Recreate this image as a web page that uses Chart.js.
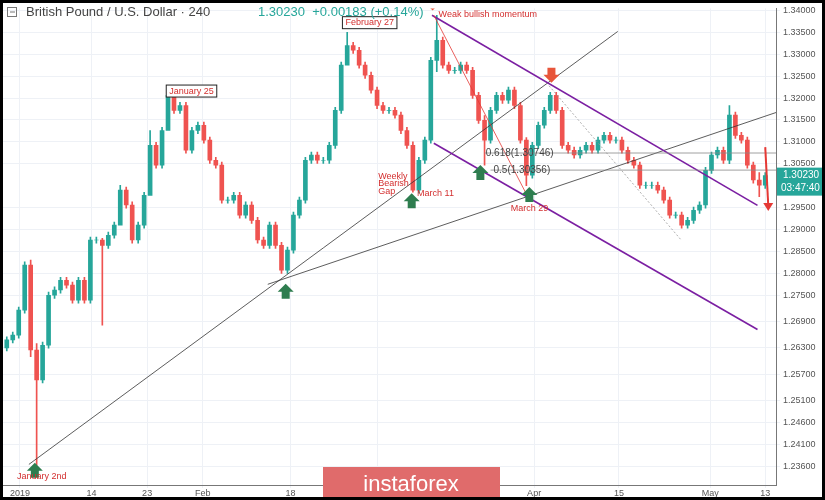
<!DOCTYPE html>
<html>
<head>
<meta charset="utf-8">
<script src="https://cdn.jsdelivr.net/npm/chart.js@4.4.1/dist/chart.umd.min.js"></script>
<style>
  html, body { margin: 0; padding: 0; background: #fff; }
  #wrap { position: relative; width: 825px; height: 500px; }
  canvas { display: block; }
</style>
</head>
<body>
<div id="wrap"><canvas id="chart" width="825" height="500"></canvas></div>
<script>
// GBP/USD 4H closes, one per candle slot
const closes = [
  1.2648, 1.2659, 1.2716, 1.2819, 1.2625, 1.2557, 1.2636, 1.2750, 1.2762, 1.2784,
  1.2773, 1.2739, 1.2784, 1.2739, 1.2876, 1.2876, 1.2864, 1.2887, 1.2910, 1.2990,
  1.2956, 1.2876, 1.2910, 1.2978, 1.3092, 1.3047, 1.3126, 1.3206, 1.3172, 1.3183,
  1.3081, 1.3126, 1.3138, 1.3104, 1.3058, 1.3047, 1.2967, 1.2967, 1.2978, 1.2933,
  1.2956, 1.2921, 1.2876, 1.2864, 1.2910, 1.2864, 1.2807, 1.2853, 1.2933, 1.2967,
  1.3058, 1.3070, 1.3058, 1.3058, 1.3092, 1.3172, 1.3275, 1.3320, 1.3309, 1.3275,
  1.3252, 1.3218, 1.3183, 1.3172, 1.3172, 1.3161, 1.3126, 1.3092, 1.2990, 1.3058,
  1.3104, 1.3286, 1.3332, 1.3275, 1.3263, 1.3263, 1.3275, 1.3263, 1.3206, 1.3149,
  1.3104, 1.3172, 1.3206, 1.3195, 1.3218, 1.3183, 1.3104, 1.3024, 1.3092, 1.3138,
  1.3172, 1.3206, 1.3172, 1.3092, 1.3081, 1.3070, 1.3081, 1.3092, 1.3081, 1.3104,
  1.3115, 1.3104, 1.3104, 1.3081, 1.3058, 1.3047, 1.3001, 1.3001, 1.3001, 1.2990,
  1.2967, 1.2933, 1.2933, 1.2910, 1.2921, 1.2944, 1.2956, 1.3035, 1.3070, 1.3081,
  1.3058, 1.3161, 1.3115, 1.3104, 1.3047, 1.3013, 1.3001, 1.3023
];
const firstOpen = 1.2630;
// notable wicks: candle index -> [low, high]
const bigWicks = {
  4: [1.2610, 1.2830], 5: [1.2362, 1.2640], 16: [1.2682, 1.2880], 19: [1.2960, 1.3001],
  24: [1.3040, 1.3126], 27: [1.3160, 1.3222], 57: [1.3280, 1.3350], 68: [1.2985, 1.3100],
  72: [1.3260, 1.3389], 80: [1.3047, 1.3160], 87: [1.3000, 1.3110], 121: [1.3050, 1.3183],
  126: [1.2975, 1.3030]
};
const wickPad = 0.0007;

const yTicks = [1.34, 1.335, 1.33, 1.325, 1.32, 1.315, 1.31, 1.305, 1.295, 1.29, 1.285,
  1.28, 1.275, 1.269, 1.263, 1.257, 1.251, 1.246, 1.241, 1.236];
const xTickPos = [2.2, 14.2, 23.5, 32.8, 47.5, 62, 88.3, 102.5, 117.8, 127];
const xTickLabels = ["2019", "14", "23", "Feb", "18", "Mar", "Apr", "15", "May", "13"];
const lastPrice = 1.3023;

const bodies = [];
const wicks = [];
const colors = [];
closes.forEach(function (c, i) {
  const o = i === 0 ? firstOpen : closes[i - 1];
  const w = bigWicks[i] || [Math.min(o, c) - wickPad, Math.max(o, c) + wickPad];
  bodies.push({ x: i, y: [o, c] });
  wicks.push({ x: i, y: w });
  colors.push(c >= o ? "#26a69a" : "#ef5350");
});

// drawings in (candle index, price)
const lines = [
  { a: [3.7, 1.2364], b: [102.3, 1.3352], color: "#333", w: 0.8 },
  { a: [43.7, 1.2775], b: [128.8, 1.3167], color: "#333", w: 0.8 },
  { a: [71.2, 1.3389], b: [125.7, 1.2955], color: "#7b1fa2", w: 1.6 },
  { a: [71.5, 1.3097], b: [125.7, 1.2672], color: "#7b1fa2", w: 1.6 },
  { a: [71.5, 1.3389], b: [87, 1.2981], color: "#e53935", w: 0.8 },
  { a: [90.8, 1.3228], b: [112.8, 1.2878], color: "#999", w: 0.8, dash: [2, 2] },
  { a: [80, 1.30746], b: [128.8, 1.30746], color: "#888", w: 0.8 },
  { a: [81, 1.30356], b: [128.8, 1.30356], color: "#888", w: 0.8 }
];
const upArrows = [[4.7, 1.2368], [46.7, 1.2776], [67.8, 1.2983], [79.3, 1.3047], [87.5, 1.2997]];
const downArrows = [[71.3, 1.3400], [91.2, 1.3235]];
const labels = [
  { p: [72.3, 1.3390], t: "Weak bullish momentum" },
  { p: [68.7, 1.2982], t: "March 11" },
  { p: [84.4, 1.2948], t: "March 29" },
  { p: [1.7, 1.2336], t: "January 2nd" },
  { p: [62.2, 1.3022], t: "Weekly" },
  { p: [62.2, 1.3004], t: "Bearish" },
  { p: [62.2, 1.2986], t: "Gap" }
];
const boxes = [
  { p: [26.7, 1.3216], t: "January 25" },
  { p: [56.2, 1.3372], t: "February 27" }
];
const fibLabels = [
  { p: [80.2, 1.30746], t: "0.618(1.30746)" },
  { p: [81.5, 1.30356], t: "0.5(1.30356)" }
];

const drawings = {
  id: "drawings",
  afterDatasetsDraw: function (chart) {
    const ctx = chart.ctx;
    const xs = chart.scales.x;
    const ys = chart.scales.y;
    const area = chart.chartArea;
    function P(p) { return [xs.getPixelForValue(p[0]), ys.getPixelForValue(p[1])]; }
    ctx.save();
    ctx.beginPath();
    ctx.rect(area.left, area.top, area.right - area.left, area.bottom - area.top);
    ctx.clip();
    lines.forEach(function (l) {
      const s = P(l.a);
      const e = P(l.b);
      ctx.strokeStyle = l.color; ctx.lineWidth = l.w;
      ctx.setLineDash(l.dash || []);
      ctx.beginPath(); ctx.moveTo(s[0], s[1]); ctx.lineTo(e[0], e[1]); ctx.stroke();
    });
    ctx.setLineDash([]);
    // red arrow on the right
    const r1 = P([127, 1.3088]);
    const r2 = P([127.5, 1.2942]);
    ctx.strokeStyle = "#e53935"; ctx.lineWidth = 2;
    ctx.beginPath(); ctx.moveTo(r1[0], r1[1]); ctx.lineTo(r2[0], r2[1] - 6); ctx.stroke();
    ctx.fillStyle = "#e53935";
    ctx.beginPath(); ctx.moveTo(r2[0] - 5, r2[1] - 8); ctx.lineTo(r2[0] + 5, r2[1] - 8); ctx.lineTo(r2[0], r2[1]); ctx.fill();
    // big arrows
    function arrow(p, up, col) {
      const c = P(p);
      const cx = c[0], cy = c[1];
      const s = up ? 1 : -1;
      ctx.fillStyle = col;
      ctx.beginPath();
      ctx.moveTo(cx, cy);
      ctx.lineTo(cx + 8, cy + 8 * s); ctx.lineTo(cx + 4, cy + 8 * s);
      ctx.lineTo(cx + 4, cy + 15 * s); ctx.lineTo(cx - 4, cy + 15 * s);
      ctx.lineTo(cx - 4, cy + 8 * s); ctx.lineTo(cx - 8, cy + 8 * s);
      ctx.closePath(); ctx.fill();
    }
    upArrows.forEach(function (p) { arrow(p, true, "#2e7d4f"); });
    downArrows.forEach(function (p) { arrow(p, false, "#e8553a"); });
    ctx.font = "9px 'Liberation Sans', sans-serif";
    ctx.textBaseline = "middle";
    labels.forEach(function (l) {
      const q = P(l.p);
      ctx.fillStyle = "#d32f2f"; ctx.fillText(l.t, q[0], q[1]);
    });
    boxes.forEach(function (b) {
      const q = P(b.p);
      const w = ctx.measureText(b.t).width + 6;
      ctx.fillStyle = "#fff"; ctx.fillRect(q[0], q[1] - 6, w, 12);
      ctx.strokeStyle = "#222"; ctx.lineWidth = 1; ctx.strokeRect(q[0], q[1] - 6, w, 12);
      ctx.fillStyle = "#d32f2f"; ctx.fillText(b.t, q[0] + 3, q[1]);
    });
    ctx.font = "10px 'Liberation Sans', sans-serif";
    fibLabels.forEach(function (l) {
      const q = P(l.p);
      ctx.fillStyle = "#444"; ctx.fillText(l.t, q[0], q[1]);
    });
    ctx.restore();

    // header
    ctx.save();
    ctx.textBaseline = "middle";
    ctx.font = "13px 'Liberation Sans', sans-serif";
    ctx.strokeStyle = "#777"; ctx.lineWidth = 1;
    ctx.strokeRect(7.5, 7.5, 9, 9);
    ctx.beginPath(); ctx.moveTo(10, 12); ctx.lineTo(15, 12); ctx.stroke();
    ctx.fillStyle = "#444";
    ctx.fillText("British Pound / U.S. Dollar · 240", 26, 12);
    ctx.fillStyle = "#26a69a";
    ctx.fillText("1.30230  +0.00183 (+0.14%)", 258, 12);
    // price badge
    const py = ys.getPixelForValue(lastPrice);
    ctx.fillStyle = "#26a69a";
    ctx.fillRect(area.right + 1, py - 8, 47, 28);
    ctx.fillStyle = "#fff"; ctx.font = "10px 'Liberation Sans', sans-serif";
    ctx.fillText("1.30230", area.right + 7, py);
    ctx.fillText("03:47:40", area.right + 5, py + 13);
    // watermark
    ctx.fillStyle = "#e06b6b";
    ctx.fillRect(323, 467, 177, 33);
    ctx.fillStyle = "#fff"; ctx.font = "22px 'Liberation Sans Narrow', 'Liberation Sans', sans-serif";
    ctx.textAlign = "center";
    ctx.fillText("instaforex", 411, 485);
    // frame
    ctx.strokeStyle = "#000"; ctx.lineWidth = 3;
    ctx.strokeRect(1.5, 1.5, 822, 497);
    ctx.restore();
  }
};

new Chart(document.getElementById("chart"), {
  type: "bar",
  data: {
    datasets: [
      { data: wicks, backgroundColor: colors, barThickness: 1, grouped: false, order: 2 },
      { data: bodies, backgroundColor: colors, barThickness: 4, grouped: false, order: 1 }
    ]
  },
  options: {
    responsive: false,
    animation: false,
    layout: { padding: { left: 2, top: 2, right: 2, bottom: 2 } },
    plugins: { legend: { display: false }, tooltip: { enabled: false } },
    scales: {
      x: {
        type: "linear", min: -0.8, max: 128.8, offset: false,
        afterBuildTicks: function (s) { s.ticks = xTickPos.map(function (v) { return { value: v }; }); },
        afterFit: function (s) { s.height = 13; },
        ticks: {
          autoSkip: false, maxRotation: 0, padding: 0,
          color: "#555", font: { size: 9, family: "'Liberation Sans', sans-serif" },
          callback: function (v, i) { return xTickLabels[i]; }
        },
        grid: { color: "#eef1f6", tickLength: 3, offset: false },
        border: { color: "#777" }
      },
      y: {
        position: "right", min: 1.2317, max: 1.34046,
        afterBuildTicks: function (s) { s.ticks = yTicks.map(function (v) { return { value: v }; }); },
        afterFit: function (s) { s.width = 47; },
        ticks: {
          autoSkip: false, padding: 3,
          color: "#555", font: { size: 9, family: "'Liberation Sans', sans-serif" },
          callback: function (v) { return v.toFixed(5); }
        },
        grid: { color: "#eef1f6", tickLength: 4 },
        border: { color: "#777" }
      }
    }
  },
  plugins: [drawings]
});
</script>
</body>
</html>
